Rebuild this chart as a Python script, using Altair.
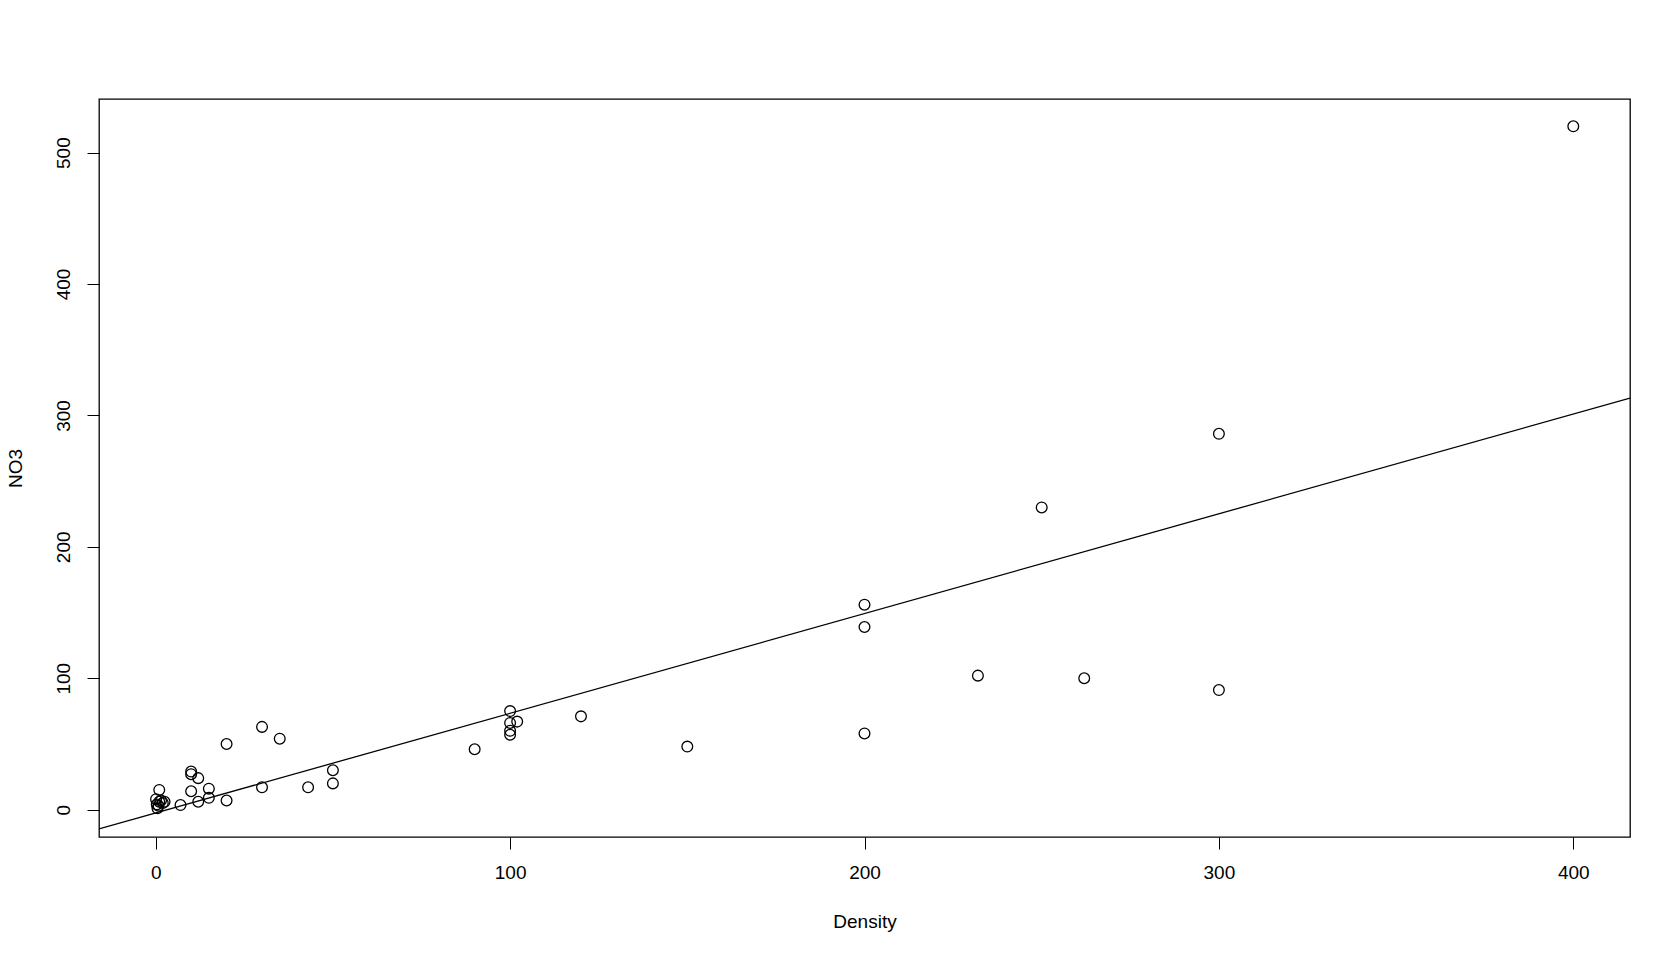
import altair as alt
import pandas as pd

density = [400, 300, 300, 250, 262, 232, 200, 200, 200, 150, 120, 90,
           100, 100, 100, 100, 102, 50, 50, 43, 30, 35, 20, 30, 20,
           10, 10, 12, 10, 15, 15, 12, 7, 1,
           0.1, 0.3, 0.5, 1, 1.5, 2, 2.5, 0.8]
no3 = [520, 286, 91, 230, 100, 102, 156, 139, 58, 48, 71, 46,
       75, 66, 60, 57, 67, 30, 20, 17, 63, 54, 50, 17, 7,
       29, 27, 24, 14, 16, 9, 6, 3.5, 15,
       8, 4, 1, 6, 7, 5, 6, 3]
x_ticks = [0, 100, 200, 300, 400]
y_ticks = [0, 100, 200, 300, 400, 500]

df = pd.DataFrame({"Density": density, "NO3": no3})

FONT = "Liberation Sans"
W, H = 1531, 738

xscale = alt.Scale(domain=[-16, 416], nice=False, zero=False)
yscale = alt.Scale(domain=[-20.8, 540.8], nice=False, zero=False)

xaxis = alt.Axis(values=x_ticks, grid=False, domain=False, tickColor="black",
                 tickSize=12, tickWidth=1, labelFont=FONT, labelFontSize=19,
                 labelColor="black", labelPadding=14, title="Density",
                 titleFont=FONT, titleFontSize=19, titleFontWeight="normal",
                 titleColor="black", titleBaseline="middle", titleY=84,
                 titleX=W / 2, labelFlush=False)
yaxis = alt.Axis(values=y_ticks, grid=False, domain=False, tickColor="black",
                 tickSize=12, tickWidth=1, labelFont=FONT, labelFontSize=19,
                 labelColor="black", labelPadding=14, labelAngle=270,
                 labelAlign="center", labelBaseline="bottom", title="NO3",
                 titleFont=FONT, titleFontSize=19, titleFontWeight="normal",
                 titleColor="black", titleBaseline="middle", titleX=-84,
                 titleY=H / 2, titleAngle=270, labelFlush=False)

base = alt.Chart(df)

points = base.mark_point(shape="circle", filled=False, color="black",
                         size=115, strokeWidth=1.3, opacity=1).encode(
    x=alt.X("Density:Q", scale=xscale, axis=xaxis),
    y=alt.Y("NO3:Q", scale=yscale, axis=yaxis),
)

line = base.transform_regression("Density", "NO3", extent=[-16, 416]).mark_line(
    color="black", strokeWidth=1.3, clip=True).encode(
    x=alt.X("Density:Q", scale=xscale),
    y=alt.Y("NO3:Q", scale=yscale),
)

chart = alt.layer(points, line).properties(
    width=W, height=H,
    padding={"left": 91, "top": 91, "right": 30, "bottom": 110},
    autosize=alt.AutoSizeParams(type="none"),
    background="white",
).configure_view(stroke="black", strokeWidth=1.3)

chart.save("out.html", embed_options={"renderer": "svg", "actions": False})
